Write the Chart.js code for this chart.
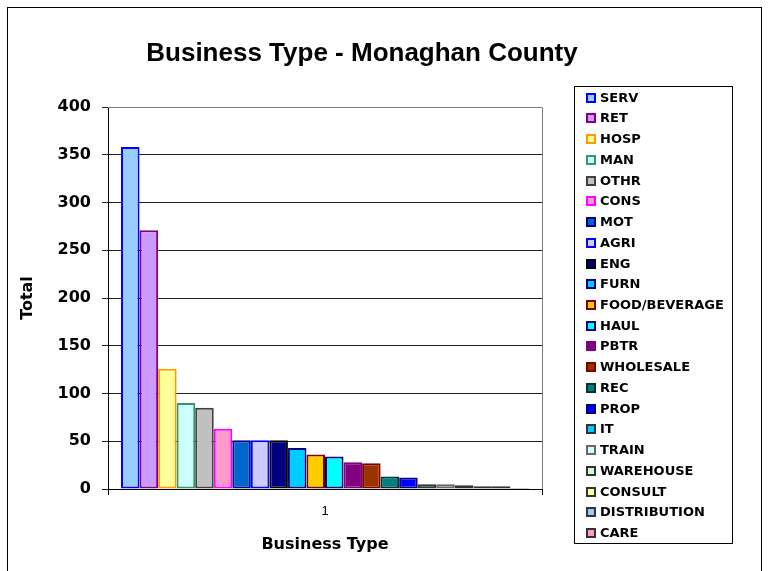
<!DOCTYPE html>
<html>
<head>
<meta charset="utf-8">
<title>Business Type - Monaghan County</title>
<script src="https://cdn.jsdelivr.net/npm/chart.js@4.4.1/dist/chart.umd.min.js"></script>
<style>
  body { margin: 0; background: #fff; }
  #wrap { position: relative; width: 770px; height: 571px; overflow: hidden; }
  #frame { position: absolute; left: 7px; top: 7px; width: 753px; height: 600px; border: 1px solid #000; }
  #chart { position: absolute; left: 0; top: 0; }
  #title { position: absolute; left: 0; top: 36px; width: 724px; text-align: center;
    font: bold 26px "Liberation Sans", Arial, sans-serif; line-height: 32px; color: #000; }
  #legend { position: absolute; left: 574px; top: 86px; width: 157px; height: 456px;
    border: 1px solid #000; box-sizing: content-box; }
  .item { position: absolute; left: 0; height: 20px; line-height: 20px; white-space: nowrap;
    font: bold 13px "DejaVu Sans", Verdana, sans-serif; color: #000; }
  .swatch { display: inline-block; width: 10px; height: 10px; box-sizing: border-box;
    border: 2px solid; margin-left: 11px; margin-right: 4px; vertical-align: -1px; }
</style>
</head>
<body>
<div id="wrap">
  <div id="frame"></div>
  <canvas id="chart" width="770" height="571"></canvas>
  <div id="title">Business Type - Monaghan County</div>
  <div id="legend"></div>
</div>
<script>
// data kategori usaha (satu kategori "1", tiap jenis jadi satu seri)
const categories = ['1'];
const businessTypes = ['SERV', 'RET', 'HOSP', 'MAN', 'OTHR', 'CONS', 'MOT', 'AGRI', 'ENG', 'FURN',
  'FOOD/BEVERAGE', 'HAUL', 'PBTR', 'WHOLESALE', 'REC', 'PROP', 'IT', 'TRAIN', 'WAREHOUSE',
  'CONSULT', 'DISTRIBUTION', 'CARE'];
const totals = [358, 271, 126, 90, 85, 63, 51, 51, 51, 43, 36, 34, 28, 27, 13, 12, 5, 5, 4, 3, 3, 1];
const yTicks = [0, 50, 100, 150, 200, 250, 300, 350, 400];

// warna isi dan garis tepi tiap seri
const fillColors = ['#99CCFF', '#CC99FF', '#FFFF99', '#CCFFFF', '#C0C0C0', '#FF99CC', '#0066CC',
  '#CCCCFF', '#000080', '#00CCFF', '#FFCC00', '#00FFFF', '#800080', '#993300', '#008080',
  '#0000FF', '#00CCFF', '#CCFFFF', '#CCFFCC', '#FFFF99', '#99CCFF', '#FF99CC'];
const borderColors = ['#0000FF', '#800080', '#FF9900', '#339966', '#404040', '#FF00FF', '#000080',
  '#0000FF', '#000000', '#000080', '#800000', '#000080', '#800080', '#800000', '#003333',
  '#000080', '#333333', '#666666', '#333333', '#333333', '#333333', '#333333'];

document.addEventListener('DOMContentLoaded', function() {
    const datasets = businessTypes.map(function(name, i) {
        return {
            label: name,
            data: [totals[i]],
            backgroundColor: fillColors[i],
            borderColor: borderColors[i],
            borderWidth: 2,
            borderSkipped: false,
            categoryPercentage: 0.94,
            barPercentage: 1.0
        };
    });

    // garis tepi abu-abu area plot (atas & kanan)
    const plotBorder = {
        id: 'plotBorder',
        beforeDatasetsDraw(chart) {
            const a = chart.chartArea;
            const ctx = chart.ctx;
            ctx.save();
            ctx.strokeStyle = '#808080';
            ctx.lineWidth = 1;
            ctx.beginPath();
            ctx.moveTo(a.left, a.top + 0.5);
            ctx.lineTo(a.right + 0.5, a.top + 0.5);
            ctx.lineTo(a.right + 0.5, a.bottom);
            ctx.stroke();
            ctx.restore();
        }
    };

    const ctx = document.getElementById('chart').getContext('2d');
    new Chart(ctx, {
        type: 'bar',
        data: { labels: categories, datasets: datasets },
        plugins: [plotBorder],
        options: {
            responsive: false,
            animation: false,
            layout: { padding: { left: 8, right: 228, top: 107, bottom: 0 } },
            plugins: {
                legend: { display: false },
                title: { display: false },
                tooltip: { enabled: false }
            },
            scales: {
                x: {
                    afterFit: function(scale) { scale.height = 82; },
                    grid: { drawOnChartArea: false, drawTicks: true, tickLength: 6, color: '#000', offset: true },
                    border: { display: true, color: '#000', width: 1 },
                    ticks: { color: '#000', padding: 9, font: { family: '"Liberation Sans", Arial', size: 13 } },
                    title: {
                        display: true, text: 'Business Type', color: '#000',
                        padding: { top: 0, bottom: 17 },
                        font: { family: '"DejaVu Sans", Verdana', size: 16, weight: 'bold' }
                    }
                },
                y: {
                    min: 0,
                    max: 400,
                    afterFit: function(scale) { scale.width = 100; },
                    afterBuildTicks: function(scale) {
                        scale.ticks = yTicks.map(function(v) { return { value: v }; });
                    },
                    grid: { color: '#222', tickLength: 6, drawTicks: true },
                    border: { display: true, color: '#000', width: 1 },
                    ticks: { color: '#000', padding: 11, font: { family: '"DejaVu Sans", Verdana', size: 16, weight: 'bold' } },
                    title: {
                        display: true, text: 'Total', color: '#000',
                        padding: { top: 10, bottom: 0 },
                        font: { family: '"DejaVu Sans", Verdana', size: 16, weight: 'bold' }
                    }
                }
            }
        }
    });

    // legenda HTML
    const legend = document.getElementById('legend');
    businessTypes.forEach(function(name, i) {
        const row = document.createElement('div');
        row.className = 'item';
        row.style.top = (2.7 + i * 20.73) + 'px';
        const sw = document.createElement('span');
        sw.className = 'swatch';
        sw.style.background = fillColors[i];
        sw.style.borderColor = borderColors[i];
        row.appendChild(sw);
        row.appendChild(document.createTextNode(name));
        legend.appendChild(row);
    });
});
</script>
</body>
</html>
